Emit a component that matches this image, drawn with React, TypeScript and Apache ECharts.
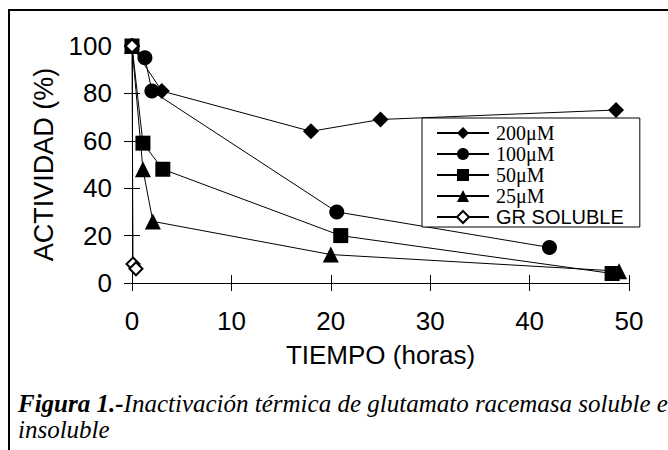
import React, { useEffect, useRef } from "react";
import * as echarts from "echarts";

const seriesNames = ["200μM", "100μM", "50μM", "25μM", "GR SOLUBLE"];
const s200: [number, number][] = [[0, 100], [3, 81], [18, 64], [25, 69], [48.7, 73]];
const s100: [number, number][] = [[0, 100], [1.3, 95], [2, 81], [20.6, 30], [42, 15]];
const s50: [number, number][] = [[0, 100], [1.1, 59], [3.1, 48], [21, 20], [48.3, 4]];
const s25: [number, number][] = [[0, 100], [1.1, 48], [2.1, 26], [20, 12], [49, 5]];
const sGR: [number, number][] = [[0, 100], [0.1, 8], [0.4, 6]];
const xTicks = { min: 0, max: 50, interval: 10 };
const yTicks = { min: 0, max: 100, interval: 20 };
const captionBold = "Figura 1.-";
const captionLine1 = "Inactivación térmica de glutamato racemasa soluble e";
const captionLine2 = "insoluble";

const SANS = "'Liberation Sans', Arial, sans-serif";
const SERIF = "'Liberation Serif', 'Times New Roman', serif";

export default function App() {
  const ref = useRef<HTMLDivElement>(null);
  useEffect(() => {
    if (!ref.current) return;
    const chart = echarts.init(ref.current, null, { renderer: "svg" });
    const mk = (name: string, data: [number, number][], symbol: string, size: number, open = false) => ({
      name,
      type: "line",
      data,
      symbol,
      symbolSize: size,
      showSymbol: true,
      lineStyle: { color: "#000", width: 1 },
      itemStyle: open
        ? { color: "#fff", borderColor: "#000", borderWidth: 2 }
        : { color: "#000", borderColor: "#000", borderWidth: 0 },
      emphasis: { disabled: true },
      z: 3,
    });
    const axisCommon = {
      axisLine: { show: true, lineStyle: { color: "#000", width: 1 } },
      splitLine: { show: false },
    };
    chart.setOption({
      animation: false,
      backgroundColor: "#fff",
      grid: { left: 132, right: 39, top: 46, bottom: 167 },
      xAxis: [
        {
          type: "value",
          ...xTicks,
          ...axisCommon,
          axisTick: { show: true, inside: false, length: 8, lineStyle: { color: "#000" } },
          axisLabel: { fontFamily: SANS, fontSize: 26, color: "#000", margin: 25 },
          name: "TIEMPO (horas)",
          nameLocation: "middle",
          nameGap: 59,
          nameTextStyle: { fontFamily: SANS, fontSize: 26, color: "#000" },
        },
        {
          type: "value",
          ...xTicks,
          ...axisCommon,
          position: "bottom",
          axisTick: { show: true, inside: true, length: 8, lineStyle: { color: "#000" } },
          axisLabel: { show: false },
        },
      ],
      yAxis: [
        {
          type: "value",
          ...yTicks,
          ...axisCommon,
          axisTick: { show: true, inside: false, length: 8, lineStyle: { color: "#000" } },
          axisLabel: { fontFamily: SANS, fontSize: 26, color: "#000", margin: 20 },
          name: "ACTIVIDAD (%)",
          nameLocation: "middle",
          nameGap: 73,
          nameTextStyle: { fontFamily: SANS, fontSize: 27, color: "#000" },
        },
        {
          type: "value",
          ...yTicks,
          ...axisCommon,
          position: "left",
          axisTick: { show: true, inside: true, length: 8, lineStyle: { color: "#000" } },
          axisLabel: { show: false },
        },
      ],
      legend: {
        orient: "vertical",
        left: 422,
        top: 118,
        padding: [5, 16, 0, 14],
        itemWidth: 52,
        itemHeight: 15,
        itemGap: 1,
        backgroundColor: "#fff",
        borderColor: "#000",
        borderWidth: 1,
        borderRadius: 0,
        data: seriesNames.map((n, i) => ({
          name: n,
          textStyle: i < 4
            ? { fontFamily: SERIF, fontSize: 20, color: "#000", lineHeight: 20, padding: [0, 0, 0, 2] }
            : { fontFamily: SANS, fontSize: 20, color: "#000", lineHeight: 20, padding: [0, 0, 0, 2] },
        })),
        z: 10,
      },
      series: [
        mk(seriesNames[0], s200, "diamond", 16),
        mk(seriesNames[1], s100, "circle", 15),
        mk(seriesNames[2], s50, "rect", 15),
        mk(seriesNames[3], s25, "triangle", 16),
        mk(seriesNames[4], sGR, "diamond", 13, true),
      ],
      graphic: [
        {
          type: "text",
          x: 18,
          y: 403,
          style: {
            text: "{b|" + captionBold + "}{i|" + captionLine1 + "}",
            verticalAlign: "middle",
            rich: {
              b: { fontFamily: SERIF, fontSize: 25, fontWeight: "bold", fontStyle: "italic", fill: "#000" },
              i: { fontFamily: SERIF, fontSize: 25, fontStyle: "italic", fill: "#000" },
            },
          },
          z: 20,
        },
        {
          type: "text",
          x: 18,
          y: 429,
          style: {
            text: captionLine2,
            verticalAlign: "middle",
            fontFamily: SERIF,
            fontSize: 25,
            fontStyle: "italic",
            fill: "#000",
          },
          z: 20,
        },
      ],
    });
    return () => chart.dispose();
  }, []);
  return (
    <div style={{ position: "fixed", left: 0, top: 0, width: 668, height: 450, background: "#fff", overflow: "hidden" }}>
      <div ref={ref} style={{ position: "absolute", left: 0, top: 0, width: 668, height: 450 }} />
      <div
        style={{
          position: "absolute",
          left: 7.5,
          top: 9,
          width: 700,
          height: 500,
          borderLeft: "2px solid #000",
          borderTop: "2px solid #000",
          pointerEvents: "none",
        }}
      />
    </div>
  );
}
